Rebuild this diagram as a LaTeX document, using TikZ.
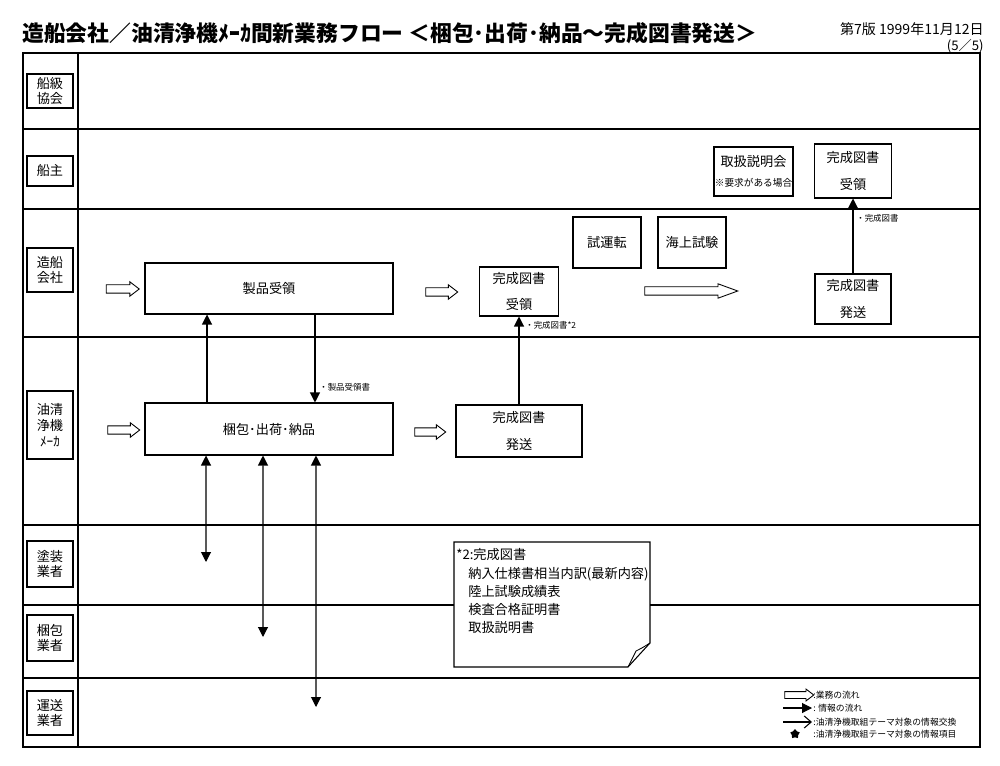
\documentclass[tikz,border=0pt]{standalone}
\usepackage{fontspec}
\setmainfont{Noto Sans CJK JP}
\usetikzlibrary{arrows.meta, positioning, shapes.arrows, shapes.geometric}
\newcommand{\fsz}[2]{\fontsize{#1}{#2}\selectfont}

\begin{document}
\begin{tikzpicture}[
    x=0.02cm, y=-0.02cm,
    >={Triangle[length=0.2cm,width=0.2cm]},
    proc/.style={draw, line width=0.6pt, inner sep=0pt, align=center, font=\fsz{7.5}{15}},
    lane/.style={draw, line width=0.6pt, inner sep=0pt, minimum width=0.92cm, align=center, font=\fsz{7.5}{9}},
    flow/.style={single arrow, draw, line width=0.5pt, inner xsep=0pt, inner ysep=0.075cm,
                 single arrow head extend=0.06cm, single arrow tip angle=75},
    info/.style={->, line width=0.6pt},
    tag/.style={anchor=west, inner sep=0pt, font=\fsz{4.8}{6}},
    memo/.style={anchor=west, inner sep=0pt, font=\fsz{7.5}{9}},
    legend/.style={anchor=west, inner sep=0pt, font=\fsz{5}{6}}
]
\useasboundingbox (0,0) rectangle (1000,766);

% Title
\node[anchor=west, inner sep=0pt, font=\fsz{12.4}{14}\bfseries] (title) at (22,33)
    {造船会社／油清浄機ﾒｰｶ間新業務フロー ＜梱包･出荷･納品～完成図書発送＞};
\node[anchor=east, inner sep=0pt, font=\fsz{8}{9}] (edition) at (984,29) {第7版 1999年11月12日};
\node[anchor=east, inner sep=0pt, font=\fsz{7.5}{9}] (page) at (984,46) {(5／5)};

% Frame and lanes
\draw[line width=1pt] (23,53) rectangle (980,747);
\draw[line width=0.8pt] (78,53) -- (78,747);
\draw[line width=0.8pt] (23,129) -- (980,129);
\draw[line width=0.8pt] (23,209) -- (980,209);
\draw[line width=0.8pt] (23,337) -- (980,337);
\draw[line width=0.8pt] (23,525) -- (980,525);
\draw[line width=0.8pt] (23,605) -- (980,605);
\draw[line width=0.8pt] (23,678) -- (980,678);

% Lane labels
\node[lane, minimum height=0.68cm] (lk) at (50,91) {船級\\協会};
\node[lane, minimum height=0.6cm] (ls) at (50,171) {船主};
\node[lane, minimum height=0.88cm] (lz) at (50,270) {造船\\会社};
\node[lane, minimum height=1.36cm] (lm) at (50,425) {油清\\浄機\\ﾒｰｶ};
\node[lane, minimum height=0.92cm] (lt) at (50,564) {塗装\\業者};
\node[lane, minimum height=0.92cm] (lp) at (50,638) {梱包\\業者};
\node[lane, minimum height=0.88cm] (lu) at (50,713) {運送\\業者};

% Nodes
\node[proc, minimum width=4.96cm, minimum height=1.02cm] (seihin) at (269,288.5) {製品受領};
\node[proc, minimum width=4.96cm, minimum height=1.04cm] (konpo) at (269,429) {梱包･出荷･納品};
\node[proc, minimum width=1.58cm, minimum height=0.98cm] (juryo1) at (519,291.5) {完成図書\\受領};
\node[proc, minimum width=2.52cm, minimum height=1.04cm] (hasso1) at (519,431) {完成図書\\発送};
\node[proc, minimum width=1.36cm, minimum height=1.02cm] (shiunten) at (607,242.5) {試運転};
\node[proc, minimum width=1.36cm, minimum height=1.02cm] (kaijo) at (692,242.5) {海上試験};
\node[proc, minimum width=1.52cm, minimum height=1.0cm] (hasso2) at (853,299) {完成図書\\発送};
\node[proc, minimum width=1.58cm, minimum height=0.98cm, font=\fsz{7.5}{11}] (setsumei) at (753.5,171.5)
    {取扱説明会\\{\fsz{5.5}{7}※要求がある場合}};
\node[proc, minimum width=1.54cm, minimum height=1.08cm] (juryo2) at (853,171) {完成図書\\受領};

% Business flow
\node[flow, minimum height=0.66cm] (f1) at (120,289) {};
\node[flow, minimum height=0.64cm] (f2) at (439,292) {};
\node[flow, minimum height=1.86cm, single arrow tip angle=40] (f3) at (685.5,291) {};
\node[flow, minimum height=0.64cm] (f4) at (121,430) {};
\node[flow, minimum height=0.62cm] (f5) at (427.5,432) {};

% Information flow
\draw[info] ([xshift=-1.24cm]konpo.north) -- ([xshift=-1.24cm]seihin.south);
\draw[info] ([xshift=0.92cm]seihin.south) -- ([xshift=0.92cm]konpo.north);
\draw[info] (hasso1.north) -- (juryo1.south);
\draw[info] (hasso2.north) -- (juryo2.south);

\coordinate (t1) at (206,562);
\coordinate (t2) at (263,637);
\coordinate (t3) at (316,707);
\draw[<->, line width=0.6pt] ([xshift=-1.26cm]konpo.south) -- (t1);
\draw[<->, line width=0.6pt] ([xshift=-0.12cm]konpo.south) -- (t2);
\draw[<->, line width=0.6pt] ([xshift=0.94cm]konpo.south) -- (t3);

% Labels
\node[tag] (l1) at (319,387) {・製品受領書};
\node[tag] (l2) at (525,325) {・完成図書*2};
\node[tag] (l3) at (856,218) {・完成図書};

% Note
\fill[white] (454,542) rectangle (650,667);
\draw[line width=0.6pt] (454,542) -- (650,542) -- (650,643) -- (628,667) -- (454,667) -- cycle;
\draw[line width=0.5pt] (628,667) -- (636,651) .. controls (642,648) .. (650,643);
\node[memo] (n0) at (456,555) {*2:完成図書};
\node[memo] (n1) at (468,574) {納入仕様書相当内訳(最新内容)};
\node[memo] (n2) at (468,592) {陸上試験成績表};
\node[memo] (n3) at (468,610) {検査合格証明書};
\node[memo] (n4) at (468,628) {取扱説明書};

% Legend
\node[flow, minimum height=0.58cm, inner ysep=0.06cm, single arrow head extend=0.05cm] (lgf) at (797,695) {};
\coordinate (lga) at (783,708);
\coordinate (lgb) at (812,708);
\coordinate (lgc) at (783,722);
\coordinate (lgd) at (812,722);
\draw[->, line width=0.6pt] (lga) -- (lgb);
\draw[-{Straight Barb[length=0.14cm,width=0.24cm]}, line width=0.6pt] (lgc) -- (lgd);
\node[star, star points=5, fill, inner sep=0pt, minimum size=0.2cm] (lgs) at (795,734) {};
\node[legend] (lt1) at (813,695) {:業務の流れ};
\node[legend] (lt2) at (813,708) {: 情報の流れ};
\node[legend] (lt3) at (813,722) {:油清浄機取組テーマ対象の情報交換};
\node[legend] (lt4) at (813,734) {:油清浄機取組テーマ対象の情報項目};

\end{tikzpicture}
\end{document}
